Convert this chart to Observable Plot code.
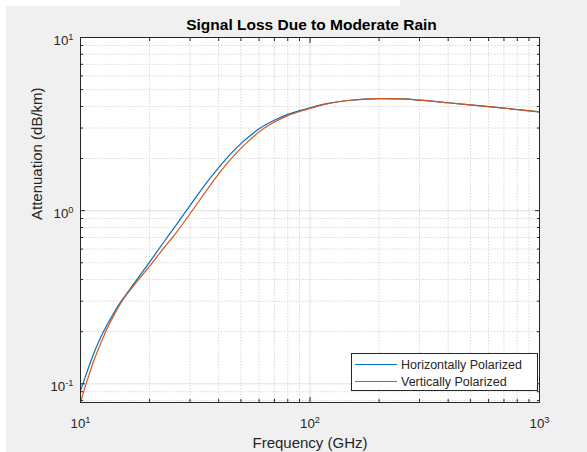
<!DOCTYPE html>
<html>
<head>
<meta charset="utf-8">
<script src="https://cdn.jsdelivr.net/npm/d3@7"></script>
<script src="https://cdn.jsdelivr.net/npm/@observablehq/plot@0.6"></script>
<style>
  html, body { margin: 0; padding: 0; background: #ffffff; }
  #fig { position: relative; width: 587px; height: 452px; background: #f0f0f0; overflow: hidden;
         font-family: "Liberation Sans", Arial, Helvetica, sans-serif; color: #262626; }
  #chart { position: absolute; left: 0; top: 0; }
  #stripLeft { position: absolute; left: 0; top: 0; width: 6px; height: 452px; background: #fff; }
  #stripTop { position: absolute; left: 0; top: 0; width: 400px; height: 6px; background: #fff; }
  #legend { position: absolute; left: 351px; top: 353px; width: 187px; height: 38px; box-sizing: border-box;
            border: 1px solid #262626; background: #fff; }
  .entry { position: absolute; left: 0; height: 16px; width: 185px; }
  .swatch { position: absolute; left: 3px; top: 7px; width: 42px; height: 0; border-top: 1px solid; }
  .lab { position: absolute; left: 49px; top: 0; font-size: 12.5px; line-height: 16px; color: #262626; white-space: nowrap; }
</style>
</head>
<body>
<div id="fig">
  <div id="chart"></div>
  <div id="legend"></div>
  <div id="stripLeft"></div>
  <div id="stripTop"></div>
</div>
<script>
// ---- data ----
const frequencyGHz = [10, 10.5, 11, 11.5, 12, 13, 14, 15, 17, 20, 23, 26, 30, 35, 40, 45, 50, 55, 60, 70, 80, 90, 100, 120, 150, 200, 250, 300, 400, 500, 700, 1000];
const horizontalAtt = [0.091, 0.110, 0.131, 0.153, 0.175, 0.217, 0.258, 0.298, 0.375, 0.505, 0.655, 0.82, 1.07, 1.42, 1.77, 2.12, 2.44, 2.72, 2.97, 3.33, 3.60, 3.78, 3.93, 4.16, 4.34, 4.44, 4.42, 4.35, 4.20, 4.08, 3.91, 3.72];
const verticalAtt   = [0.078, 0.097, 0.117, 0.139, 0.160, 0.206, 0.250, 0.293, 0.367, 0.478, 0.605, 0.74, 0.96, 1.28, 1.63, 1.97, 2.29, 2.58, 2.85, 3.25, 3.54, 3.74, 3.90, 4.15, 4.34, 4.44, 4.42, 4.35, 4.20, 4.08, 3.91, 3.72];
const seriesNames = ["Horizontally Polarized", "Vertically Polarized"];
const seriesColors = ["#0072BD", "#D95319"];
const majorTicksX = [10, 100, 1000];
const minorTicksX = [20, 30, 40, 50, 60, 70, 80, 90, 200, 300, 400, 500, 600, 700, 800, 900];
const majorTicksY = [0.1, 1, 10];
const minorTicksY = [0.08, 0.09, 0.2, 0.3, 0.4, 0.5, 0.6, 0.7, 0.8, 0.9, 2, 3, 4, 5, 6, 7, 8, 9];
const xDomain = [10, 1000];
const yDomain = [0.078, 10];
const titleText = "Signal Loss Due to Moderate Rain";
const xLabelText = "Frequency (GHz)";
const yLabelText = "Attenuation (dB/km)";

const rows = [];
frequencyGHz.forEach((f, i) => {
  rows.push({f, a: horizontalAtt[i], s: seriesNames[0]});
});
frequencyGHz.forEach((f, i) => {
  rows.push({f, a: verticalAtt[i], s: seriesNames[1]});
});

const expFmt = d => "10^" + Math.round(Math.log10(d));
const ink = "#262626";

const svg = Plot.plot({
  width: 587,
  height: 452,
  marginLeft: 80,
  marginRight: 48,
  marginTop: 37,
  marginBottom: 50,
  style: {background: "transparent", fontFamily: "\"Liberation Sans\", Arial, Helvetica, sans-serif", color: ink, overflow: "visible"},
  x: {type: "log", domain: xDomain},
  y: {type: "log", domain: yDomain},
  color: {domain: seriesNames, range: seriesColors},
  marks: [
    Plot.frame({fill: "#ffffff", stroke: "none"}),
    Plot.gridX(minorTicksX, {stroke: "#d8d8d8", strokeOpacity: 1, strokeWidth: 1, strokeDasharray: "1.5,1.5"}),
    Plot.gridY(minorTicksY, {stroke: "#d8d8d8", strokeOpacity: 1, strokeWidth: 1, strokeDasharray: "1.5,1.5"}),
    Plot.gridX(majorTicksX, {stroke: "#e0e0e0", strokeOpacity: 1, strokeWidth: 1}),
    Plot.gridY(majorTicksY, {stroke: "#e0e0e0", strokeOpacity: 1, strokeWidth: 1}),
    Plot.line(rows, {x: "f", y: "a", stroke: "s", z: "s", strokeWidth: 1.2, curve: "monotone-x"}),
    Plot.frame({stroke: ink, strokeWidth: 1}),
    // inward ticks on all four sides
    Plot.axisX(majorTicksX, {anchor: "bottom", tickSize: 5, dy: -5, fill: "none", stroke: ink, label: null}),
    Plot.axisX(majorTicksX, {anchor: "top", tickSize: 5, dy: 5, fill: "none", stroke: ink, label: null}),
    Plot.axisX(minorTicksX, {anchor: "bottom", tickSize: 3, dy: -3, fill: "none", stroke: ink, label: null}),
    Plot.axisX(minorTicksX, {anchor: "top", tickSize: 3, dy: 3, fill: "none", stroke: ink, label: null}),
    Plot.axisY(majorTicksY, {anchor: "left", tickSize: 5, dx: 5, fill: "none", stroke: ink, label: null}),
    Plot.axisY(majorTicksY, {anchor: "right", tickSize: 5, dx: -5, fill: "none", stroke: ink, label: null}),
    Plot.axisY(minorTicksY, {anchor: "left", tickSize: 3, dx: 3, fill: "none", stroke: ink, label: null}),
    Plot.axisY(minorTicksY, {anchor: "right", tickSize: 3, dx: -3, fill: "none", stroke: ink, label: null}),
    // tick labels
    Plot.axisX(majorTicksX, {anchor: "bottom", tickSize: 0, tickPadding: 16, tickFormat: expFmt, fill: ink, stroke: "none", label: null, fontSize: 13.3}),
    Plot.axisY(majorTicksY, {anchor: "left", tickSize: 0, tickPadding: 7, dy: 3, tickFormat: expFmt, fill: ink, stroke: "none", label: null, fontSize: 13.3}),
    // title and axis labels
    Plot.text([titleText], {text: d => d, frameAnchor: "top", dy: -7.5, dx: 1.5, lineAnchor: "bottom", fontSize: 15.5, fontWeight: "bold", fill: "#000"}),
    Plot.text([xLabelText], {text: d => d, frameAnchor: "bottom", dy: 45, lineAnchor: "bottom", fontSize: 15, fill: ink}),
    Plot.text([yLabelText], {text: d => d, frameAnchor: "left", dx: -39, rotate: -90, lineAnchor: "bottom", fontSize: 15, fill: ink})
  ]
});

// render exponents as superscripts
const NS = "http://www.w3.org/2000/svg";
svg.querySelectorAll("text").forEach(t => {
  const s = t.textContent;
  if (s.indexOf("^") < 0) return;
  const [base, ex] = s.split("^");
  t.textContent = "";
  const a = document.createElementNS(NS, "tspan");
  a.textContent = base;
  const b = document.createElementNS(NS, "tspan");
  b.setAttribute("dy", "-5");
  b.setAttribute("font-size", "9.3");
  b.textContent = ex;
  t.appendChild(a);
  t.appendChild(b);
});

document.getElementById("chart").appendChild(svg);

// legend
const legend = document.getElementById("legend");
seriesNames.forEach((name, i) => {
  const e = document.createElement("div");
  e.className = "entry";
  e.style.top = (2.5 + i * 17.7) + "px";
  const sw = document.createElement("div");
  sw.className = "swatch";
  sw.style.borderTopColor = seriesColors[i];
  const lb = document.createElement("div");
  lb.className = "lab";
  lb.textContent = name;
  e.appendChild(sw);
  e.appendChild(lb);
  legend.appendChild(e);
});
</script>
</body>
</html>
